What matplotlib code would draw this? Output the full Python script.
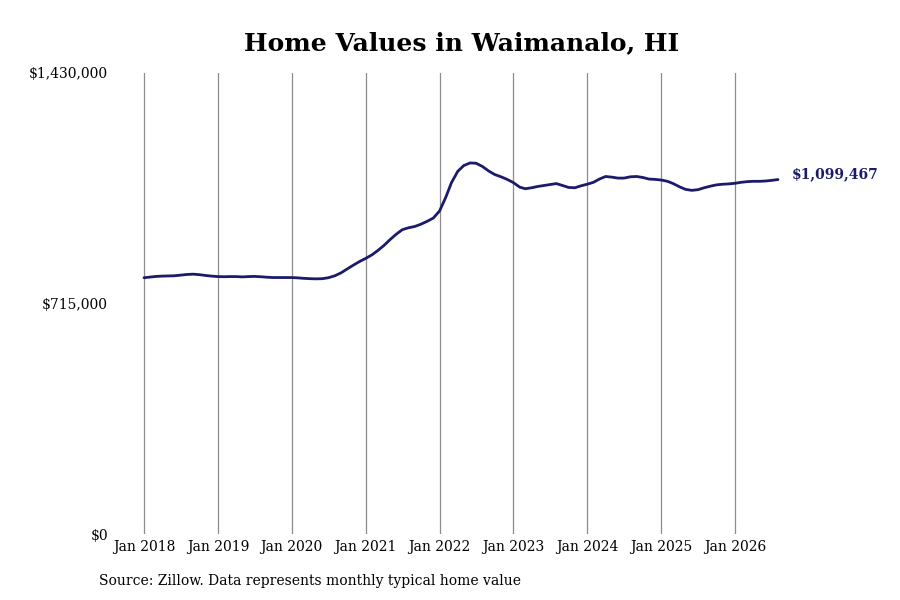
import pandas as pd
import numpy as np
import matplotlib
matplotlib.use("Agg")
import matplotlib.pyplot as plt
import matplotlib.dates as mdates

# ── Daten (monatlich, Jan 2018 - Aug 2026) ──
values_2018 = [795000, 797000, 799000, 800000, 800500, 801000, 803000, 805000, 806000, 804500, 802000, 800000]
values_2019 = [798500, 798000, 798500, 798500, 797500, 798500, 799000, 798000, 796500, 795500, 795500, 795500]
values_2020 = [795500, 794500, 793000, 792000, 791500, 792000, 795000, 801000, 810000, 822000, 834000, 845000]
values_2021 = [855000, 866000, 879000, 895000, 913000, 930000, 944000, 950000, 954000, 961000, 970000, 980000]
values_2022 = [1002000, 1045000, 1090000, 1125000, 1143000, 1151000, 1150000, 1140000, 1126000, 1115000, 1108000, 1100000]
values_2023 = [1090000, 1076000, 1071000, 1074000, 1078000, 1081000, 1084000, 1087000, 1081000, 1075000, 1074000, 1080000]
values_2024 = [1085000, 1091000, 1101000, 1109000, 1107000, 1104000, 1104000, 1108000, 1109000, 1106000, 1101000, 1100000]
values_2025 = [1098000, 1094000, 1087000, 1077000, 1069000, 1066000, 1068000, 1074000, 1079000, 1083000, 1085000, 1086000]
values_2026 = [1088000, 1091000, 1093000, 1094000, 1094000, 1095000, 1097000, 1099467]

values = (values_2018 + values_2019 + values_2020 + values_2021 + values_2022
          + values_2023 + values_2024 + values_2025 + values_2026)
dates = pd.date_range("2018-01-01", periods=len(values), freq="MS")

tick_years = list(range(2018, 2027))
y_ticks = [0, 715000, 1430000]
y_labels = ["$0", "$715,000", "$1,430,000"]

title = "Home Values in Waimanalo, HI"
source = "Source: Zillow. Data represents monthly typical home value"
line_color = "#1b1a6b"

plt.rcParams['font.family'] = 'DejaVu Serif'

fig = plt.figure(figsize=(9, 6), dpi=100)
# Achsen so platzieren, dass Jan 2018 bei x=144 px und Aug 2026 bei x=778 px liegt
ax = fig.add_axes([115 / 900, 1 - 534 / 600, (790 - 115) / 900, (534 - 73) / 600])

ax.plot(dates, values, color=line_color, linewidth=2, solid_capstyle='round')

# x-Limits aus Pixelpositionen ableiten
d0 = mdates.date2num(dates[0])
d1 = mdates.date2num(dates[-1])
px_per_day = (778 - 144) / (d1 - d0)
ax.set_xlim(d0 - (144 - 115) / px_per_day, d1 + (790 - 778) / px_per_day)
ax.set_ylim(0, 1430000)

ax.set_xticks([mdates.date2num(pd.Timestamp(f"{y}-01-01")) for y in tick_years])
ax.set_xticklabels([f"Jan {y}" for y in tick_years], fontsize=10)
ax.set_yticks(y_ticks)
ax.set_yticklabels(y_labels, fontsize=10)
ax.tick_params(axis='both', length=0)
ax.tick_params(axis='x', pad=4)
ax.tick_params(axis='y', pad=5)

ax.grid(axis='x', color='#8c8c8c', linewidth=0.9)
ax.grid(axis='y', visible=False)
for s in ax.spines.values():
    s.set_visible(False)

ax.annotate(f"${values[-1]:,.0f}", xy=(dates[-1], values[-1]), xytext=(10, 4),
            textcoords='offset points', va='center', ha='left',
            fontsize=10, fontweight='bold', color=line_color)

fig.text(462 / 900, 1 - 50 / 600, title, ha='center', va='baseline', fontsize=18, fontweight='bold')
fig.text(99 / 900, 1 - 581 / 600, source, ha='left', va='center', fontsize=10)

fig.savefig("out.png", dpi=100)
